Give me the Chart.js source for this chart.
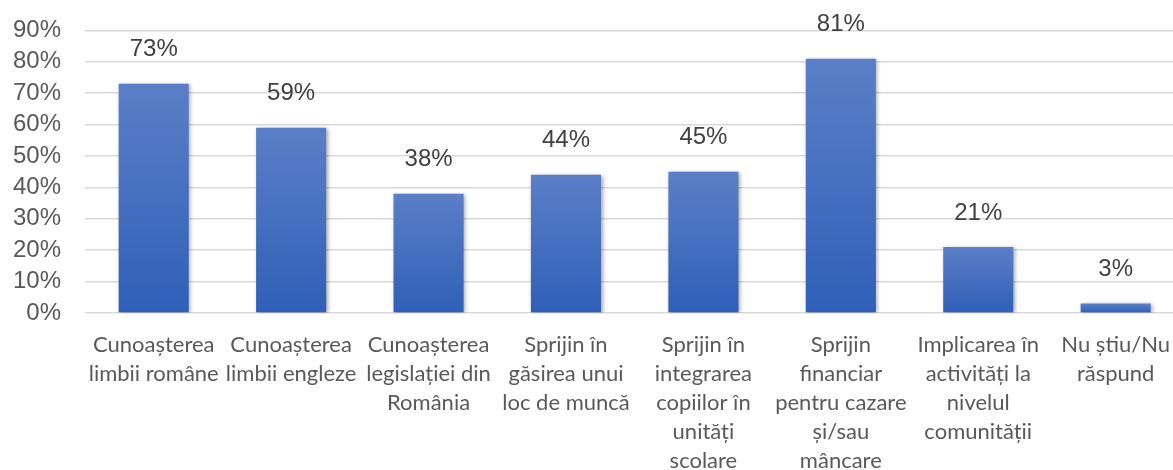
<!DOCTYPE html>
<html>
<head>
<meta charset="utf-8">
<script src="https://cdn.jsdelivr.net/npm/chart.js@4/dist/chart.umd.min.js"></script>
<style>
  html, body { margin: 0; padding: 0; background: #fff; overflow: hidden; }
  #wrap { width: 1187px; height: 500px; margin-top: -8px; }
</style>
</head>
<body>
<div id="wrap"><canvas id="needsChart" width="1187" height="500"></canvas></div>
<script>
const categories = [
  ['Cunoașterea', 'limbii române'],
  ['Cunoașterea', 'limbii engleze'],
  ['Cunoașterea', 'legislației din', 'România'],
  ['Sprijin în', 'găsirea unui', 'loc de muncă'],
  ['Sprijin în', 'integrarea', 'copiilor în', 'unități', 'scolare'],
  ['Sprijin', 'financiar', 'pentru cazare', 'și/sau', 'mâncare'],
  ['Implicarea în', 'activități la', 'nivelul', 'comunității'],
  ['Nu știu/Nu', 'răspund']
];
const percentages = [73, 59, 38, 44, 45, 81, 21, 3];
const yTicks = [0, 10, 20, 30, 40, 50, 60, 70, 80, 90];

// per-bar vertical gradient, lighter on top
function barGradient(context) {
  const chart = context.chart;
  const yScale = chart.scales.y;
  if (!yScale || context.dataIndex === undefined) return '#4a72c4';
  const top = yScale.getPixelForValue(context.raw);
  const bottom = yScale.getPixelForValue(0);
  if (!isFinite(top) || !isFinite(bottom) || top === bottom) return '#4a72c4';
  const g = chart.ctx.createLinearGradient(0, top, 0, bottom);
  g.addColorStop(0, '#5b7fc7');
  g.addColorStop(1, '#2f5fb8');
  return g;
}

const barShadow = {
  id: 'barShadow',
  beforeDatasetDraw(chart) {
    const c = chart.ctx;
    c.save();
    c.shadowColor = 'rgba(0,0,0,0.35)';
    c.shadowBlur = 4;
    c.shadowOffsetX = 1.5;
    c.shadowOffsetY = 1;
  },
  afterDatasetDraw(chart) {
    chart.ctx.restore();
  }
};

const valueLabels = {
  id: 'valueLabels',
  afterDatasetsDraw(chart) {
    const c = chart.ctx;
    const meta = chart.getDatasetMeta(0);
    c.save();
    c.font = '24px "Liberation Sans", Arial, sans-serif';
    c.fillStyle = '#404040';
    c.textAlign = 'center';
    c.textBaseline = 'middle';
    meta.data.forEach((bar, i) => {
      c.fillText(percentages[i] + '%', bar.x, bar.y - 34);
    });
    c.restore();
  }
};

new Chart(document.getElementById('needsChart'), {
  type: 'bar',
  data: {
    labels: categories,
    datasets: [{
      data: percentages,
      backgroundColor: barGradient,
      borderWidth: 0,
      categoryPercentage: 1,
      barPercentage: 0.51
    }]
  },
  options: {
    responsive: false,
    animation: false,
    layout: { padding: { top: 11, left: 0, right: 0, bottom: 0 } },
    plugins: {
      legend: { display: false },
      tooltip: { enabled: false }
    },
    scales: {
      x: {
        grid: { display: false, drawTicks: false },
        border: { display: false },
        ticks: {
          maxRotation: 0,
          autoSkip: false,
          padding: 17,
          color: '#595959',
          font: { family: 'Lato, "Open Sans", sans-serif', size: 22, lineHeight: '29px' }
        }
      },
      y: {
        min: 0,
        max: 90,
        afterFit(scale) { scale.width = 85; },
        afterBuildTicks(scale) { scale.ticks = yTicks.map(v => ({ value: v })); },
        grid: { color: '#d9d9d9', lineWidth: 1.5, drawTicks: false },
        border: { display: false },
        ticks: {
          autoSkip: false,
          padding: 24,
          color: '#595959',
          font: { family: '"Liberation Sans", Arial, sans-serif', size: 24 },
          callback: v => v + '%'
        }
      }
    }
  },
  plugins: [barShadow, valueLabels]
});
</script>
</body>
</html>
